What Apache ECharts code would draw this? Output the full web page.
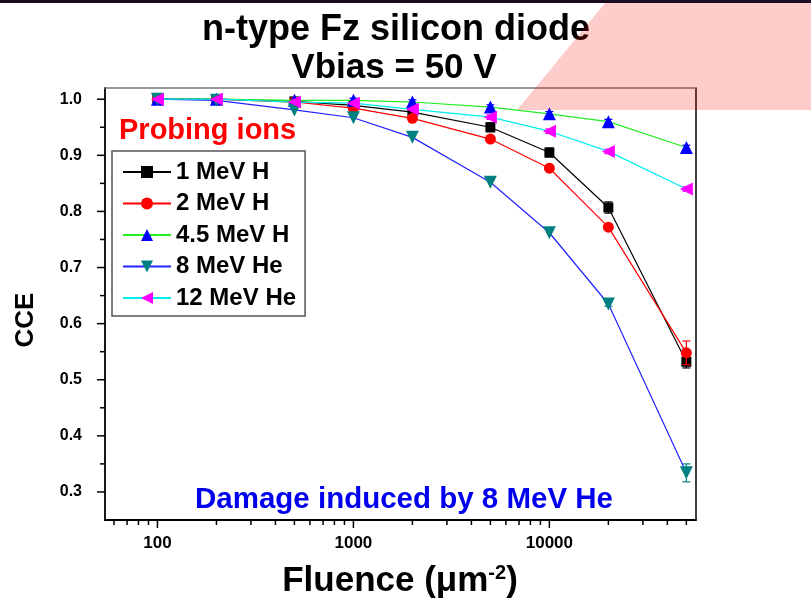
<!DOCTYPE html>
<html><head><meta charset="utf-8">
<script src="https://cdn.jsdelivr.net/npm/echarts@6/dist/echarts.min.js"></script>
<style>html,body{margin:0;padding:0;background:#fff}#c{width:811px;height:604px}</style>
</head><body><div id="c"></div>
<script>
// ---- data ----
const fluence = [100, 200, 500, 1000, 2000, 5000, 10000, 20000, 50000];
const seriesNames = ['1 MeV H', '2 MeV H', '4.5 MeV H', '8 MeV He', '12 MeV He'];
const cce1MeVH  = [1.000, 1.000, 0.996, 0.989, 0.977, 0.950, 0.905, 0.807, 0.532];
const cce2MeVH  = [1.000, 1.000, 0.995, 0.984, 0.966, 0.929, 0.877, 0.772, 0.548];
const cce45MeVH = [1.000, 1.000, 0.998, 0.998, 0.995, 0.986, 0.974, 0.960, 0.914];
const cce8MeVHe = [1.000, 0.998, 0.981, 0.967, 0.932, 0.852, 0.762, 0.635, 0.334];
const cce12MeVHe= [1.000, 1.000, 0.995, 0.993, 0.982, 0.968, 0.943, 0.907, 0.840];
const err1MeVH  = [0, 0, 0, 0.003, 0.004, 0.008, 0.008, 0.010, 0.011];
const err2MeVH  = [0, 0, 0, 0, 0, 0, 0, 0, 0.021];
const err45MeVH = [0, 0, 0, 0.004, 0.004, 0.004, 0.004, 0.004, 0.004];
const err8MeVHe = [0, 0, 0, 0, 0, 0, 0, 0.004, 0.016];
const err12MeVHe= [0, 0, 0, 0, 0, 0.004, 0.004, 0.004, 0.004];
const xMajorTicks = [100, 1000, 10000];
const xMinorTicks = [60, 70, 80, 90, 200, 300, 400, 500, 600, 700, 800, 900,
                     2000, 3000, 4000, 5000, 6000, 7000, 8000, 9000, 20000, 30000, 40000, 50000];
const yMajorTicks = [0.3, 0.4, 0.5, 0.6, 0.7, 0.8, 0.9, 1.0];
const yMinorTicks = [0.35, 0.45, 0.55, 0.65, 0.75, 0.85, 0.95];
const X_MIN = 54, X_MAX = 56000, Y_MIN = 0.25, Y_MAX = 1.02;

// ---- chart ----
const FONT = '"Liberation Sans", Arial, Helvetica, sans-serif';
const chart = echarts.init(document.getElementById('c'), null, {renderer: 'canvas'});

const styles = [
  {symbol: 'rect', size: 10, rot: 0, mark: '#000000', line: '#000000'},
  {symbol: 'circle', size: 11, rot: 0, mark: '#ff0000', line: '#ff0000'},
  {symbol: 'triangle', size: 13, rot: 0, mark: '#0000ff', line: '#22ee22'},
  {symbol: 'triangle', size: 13, rot: 180, mark: '#008080', line: '#2222ff'},
  {symbol: 'triangle', size: 13, rot: 90, mark: '#ff00ff', line: '#00eeee'}
];
const values = [cce1MeVH, cce2MeVH, cce45MeVH, cce8MeVHe, cce12MeVHe];
const errors = [err1MeVH, err2MeVH, err45MeVH, err8MeVHe, err12MeVHe];

const series = [];
values.forEach((ys, k) => {
  const st = styles[k];
  const eData = fluence.map((x, i) => [x, ys[i], errors[k][i]]).filter(d => d[2] > 0);
  series.push({
    type: 'custom', silent: true, clip: false, z: 2 + k * 2,
    data: eData,
    renderItem: (params, api) => {
      const x = api.value(0), y = api.value(1), e = api.value(2);
      const t = api.coord([x, y + e]), b = api.coord([x, y - e]);
      const w = 4;
      const s = {stroke: st.mark, lineWidth: 1.2};
      return {type: 'group', children: [
        {type: 'line', shape: {x1: t[0], y1: t[1], x2: b[0], y2: b[1]}, style: s},
        {type: 'line', shape: {x1: t[0] - w, y1: t[1], x2: t[0] + w, y2: t[1]}, style: s},
        {type: 'line', shape: {x1: b[0] - w, y1: b[1], x2: b[0] + w, y2: b[1]}, style: s}
      ]};
    }
  });
  series.push({
    type: 'line', name: seriesNames[k], z: 3 + k * 2,
    data: fluence.map((x, i) => [x, ys[i]]),
    symbol: st.symbol, symbolSize: st.size, symbolRotate: st.rot,
    showSymbol: true, showAllSymbol: true, silent: true,
    itemStyle: {color: st.mark, borderWidth: 0},
    lineStyle: {color: st.line, width: 1.2},
    emphasis: {disabled: true}
  });
});

// tick marks drawn through the axes' scales
const tickData = [];
xMajorTicks.forEach(v => tickData.push([v, Y_MIN, 0]));
xMinorTicks.forEach(v => tickData.push([v, Y_MIN, 1]));
yMajorTicks.forEach(v => tickData.push([X_MIN, v, 2]));
yMinorTicks.forEach(v => tickData.push([X_MIN, v, 3]));
series.push({
  type: 'custom', silent: true, clip: false, z: 20,
  data: tickData,
  renderItem: (params, api) => {
    const p = api.coord([api.value(0), api.value(1)]);
    const kind = api.value(2);
    const len = (kind % 2 === 0) ? 8 : 5;
    const shape = kind < 2
      ? {x1: p[0], y1: p[1], x2: p[0], y2: p[1] + len}
      : {x1: p[0], y1: p[1], x2: p[0] - len, y2: p[1]};
    return {type: 'line', shape, style: {stroke: '#000', lineWidth: 1.5}};
  }
});

const option = {
  animation: false,
  backgroundColor: '#ffffff',
  grid: {left: 105, right: 115, top: 88, bottom: 84, containLabel: false, outerBoundsMode: 'none'},
  xAxis: [
    {type: 'log', logBase: 10, min: X_MIN, max: X_MAX, position: 'bottom',
     axisLine: {show: true, lineStyle: {color: '#000', width: 1.8}},
     axisTick: {show: false}, minorTick: {show: false},
     splitLine: {show: false},
     axisLabel: {show: true, margin: 15, color: '#000', fontFamily: FONT, fontWeight: 'bold', fontSize: 17,
       showMinLabel: false, showMaxLabel: false, hideOverlap: false,
       formatter: v => { const l = Math.log10(v); return Math.abs(l - Math.round(l)) < 1e-6 ? String(Math.round(v)) : ''; }}},
    {type: 'log', logBase: 10, min: X_MIN, max: X_MAX, position: 'top',
     axisLine: {show: true, lineStyle: {color: '#777', width: 1.5}},
     axisTick: {show: false}, axisLabel: {show: false}, splitLine: {show: false}}
  ],
  yAxis: [
    {type: 'value', min: Y_MIN, max: Y_MAX, interval: 0.05, position: 'left',
     axisLine: {show: true, lineStyle: {color: '#000', width: 1.8}},
     axisTick: {show: false}, splitLine: {show: false},
     axisLabel: {show: true, margin: 23, color: '#000', fontFamily: FONT, fontWeight: 'bold', fontSize: 16,
       showMinLabel: true, showMaxLabel: false, hideOverlap: false,
       formatter: v => { const t = v * 10; return Math.abs(t - Math.round(t)) < 1e-6 ? v.toFixed(1) : ''; }}},
    {type: 'value', min: Y_MIN, max: Y_MAX, position: 'right',
     axisLine: {show: true, lineStyle: {color: '#000', width: 1.5}},
     axisTick: {show: false}, axisLabel: {show: false}, splitLine: {show: false}}
  ],
  legend: {
    orient: 'vertical', left: 112, top: 151, padding: [9, 9, 6, 10],
    itemGap: 7.5, itemWidth: 48, itemHeight: 15,
    borderColor: '#555', borderWidth: 1.5, backgroundColor: '#fff',
    selectedMode: false,
    textStyle: {fontFamily: FONT, fontWeight: 'bold', fontSize: 24, color: '#000', lineHeight: 24},
    data: seriesNames
  },
  series: series,
  graphic: [
    {type: 'rect', shape: {x: 0, y: 0, width: 811, height: 3}, style: {fill: '#1e0a1e'}, z: 50},
    {type: 'text', x: 396, y: 30, z: 30,
     style: {text: 'n-type Fz silicon diode', fill: '#000', font: 'bold 36px ' + FONT, textAlign: 'center', textVerticalAlign: 'middle'}},
    {type: 'text', x: 394, y: 68, z: 30,
     style: {text: 'Vbias = 50 V', fill: '#000', font: 'bold 35px ' + FONT, textAlign: 'center', textVerticalAlign: 'middle'}},
    {type: 'text', x: 119, y: 131, z: 30,
     style: {text: 'Probing ions', fill: '#ff0000', font: 'bold 29px ' + FONT, textAlign: 'left', textVerticalAlign: 'middle'}},
    {type: 'text', x: 404, y: 500, z: 30,
     style: {text: 'Damage induced by 8 MeV He', fill: '#0000ee', font: 'bold 29.5px ' + FONT, textAlign: 'center', textVerticalAlign: 'middle'}},
    {type: 'text', x: 26, y: 320, rotation: Math.PI / 2, z: 30,
     style: {text: 'CCE', fill: '#000', font: 'bold 26px ' + FONT, textAlign: 'center', textVerticalAlign: 'middle'}},
    {type: 'text', x: 400, y: 581, z: 30,
     style: {text: '{a|Fluence (μm}{b|-2}{a|)}', textAlign: 'center', textVerticalAlign: 'middle',
       rich: {
         a: {fontFamily: FONT, fontWeight: 'bold', fontSize: 35, fill: '#000', color: '#000'},
         b: {fontFamily: FONT, fontWeight: 'bold', fontSize: 20, fill: '#000', color: '#000', verticalAlign: 'top'}
       }}},
    {type: 'polygon', z: 100, silent: true,
     shape: {points: [[605, 3], [811, 3], [811, 110], [517, 110]]},
     style: {fill: 'rgba(255,0,0,0.2)'}}
  ]
};
chart.setOption(option);
</script>
</body></html>
